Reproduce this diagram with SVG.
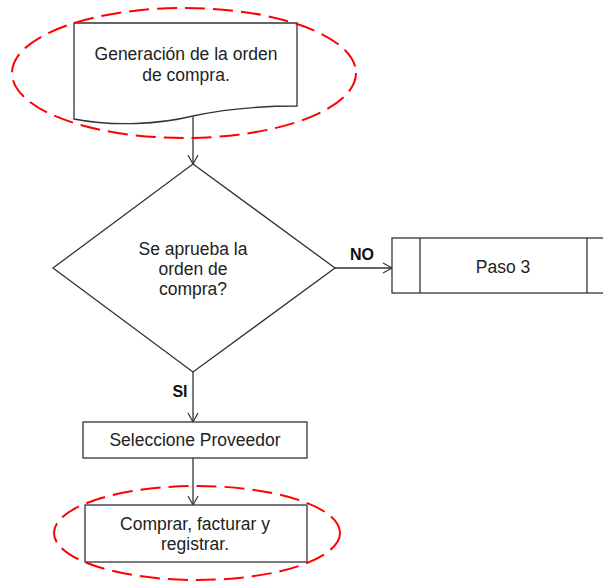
<svg xmlns="http://www.w3.org/2000/svg" width="603" height="583" viewBox="0 0 603 583">
<defs>
<marker id="arr" markerWidth="12" markerHeight="12" refX="10" refY="6" orient="auto" markerUnits="userSpaceOnUse">
<path d="M1,1 L10,6 L1,11" fill="none" stroke="#333" stroke-width="1.2"/>
</marker>
<style>
.shape{fill:#fff;stroke:#333;stroke-width:1.3}
.conn{fill:none;stroke:#333;stroke-width:1.3;marker-end:url(#arr)}
.hl{fill:none;stroke:#f00;stroke-width:2;stroke-dasharray:20 8}
.t{font-family:"Liberation Sans",Arial,sans-serif;font-size:17.5px;fill:#222;text-anchor:middle}
.b{font-family:"Liberation Sans",Arial,sans-serif;font-size:16px;font-weight:bold;fill:#111;text-anchor:middle}
</style>
</defs>
<rect width="603" height="583" fill="#fff"/>
<g id="connectors">
<path class="conn" d="M193,117 L193,164"/>
<path class="conn" d="M335,268 L392,268"/>
<path class="conn" d="M193,372 L193,422"/>
<path class="conn" d="M193,458 L193,505"/>
<text class="b" x="362" y="260">NO</text>
<text class="b" x="180" y="397">SI</text>
</g>
<g id="doc">
<path class="shape" d="M74,23 L297,23 L297,106 C260,106 225,109 193,116 C160,124 115,127 74,119 Z"/>
<text class="t" x="186" y="60">Generación de la orden</text>
<text class="t" x="186" y="81">de compra.</text>
</g>
<g id="decision">
<path class="shape" d="M193,164 L335,268 L193,372 L53,268 Z"/>
<text class="t" x="193" y="255">Se aprueba la</text>
<text class="t" x="193" y="275">orden de</text>
<text class="t" x="193" y="295">compra?</text>
</g>
<g id="paso3">
<rect class="shape" x="392" y="238" width="230" height="55"/>
<line x1="420" y1="238" x2="420" y2="293" stroke="#333" stroke-width="1.3"/>
<line x1="587" y1="238" x2="587" y2="293" stroke="#333" stroke-width="1.3"/>
<text class="t" x="503" y="273">Paso 3</text>
</g>
<g id="seleccione">
<rect class="shape" x="83" y="422" width="224" height="36"/>
<text class="t" x="195" y="446">Seleccione Proveedor</text>
</g>
<g id="comprar">
<rect class="shape" x="85" y="505" width="222" height="57"/>
<text class="t" x="195" y="530">Comprar, facturar y</text>
<text class="t" x="195" y="550">registrar.</text>
</g>
<g id="highlights">
<ellipse class="hl" cx="184" cy="73" rx="172" ry="65"/>
<ellipse class="hl" cx="197" cy="533" rx="143" ry="47"/>
</g>
</svg>
